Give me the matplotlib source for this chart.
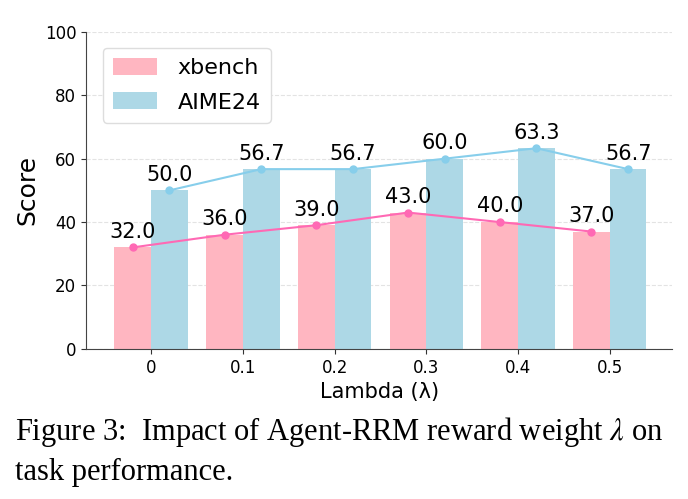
import matplotlib
matplotlib.use("Agg")
import matplotlib.pyplot as plt
import numpy as np

plt.rcParams["mathtext.fontset"] = "stix"

lambdas = ["0", "0.1", "0.2", "0.3", "0.4", "0.5"]
xbench = [32.0, 36.0, 39.0, 43.0, 40.0, 37.0]
aime24 = [50.0, 56.7, 56.7, 60.0, 63.3, 56.7]

fig = plt.figure(figsize=(6.88, 4.99), dpi=100)
ax = fig.add_axes([0.125, 0.301, 0.852, 0.635])

x = np.arange(len(lambdas))
w = 0.4
ax.bar(x - w/2, xbench, w, color="#FFB6C1", label="xbench", zorder=2)
ax.bar(x + w/2, aime24, w, color="#ADD8E6", label="AIME24", zorder=2)
ax.plot(x - w/2, xbench, color="#FF69B4", marker="o", ms=5, lw=1.5, zorder=3)
ax.plot(x + w/2, aime24, color="#87CEEB", marker="o", ms=5, lw=1.5, zorder=3)

for xi, v in zip(x - w/2, xbench):
    ax.annotate(f"{v:.1f}", (xi, v), xytext=(0, 4), textcoords="offset points",
                ha="center", va="bottom", fontsize=15)
for xi, v in zip(x + w/2, aime24):
    ax.annotate(f"{v:.1f}", (xi, v), xytext=(0, 4), textcoords="offset points",
                ha="center", va="bottom", fontsize=15)

ax.set_xlim(-0.71, 5.68)
ax.set_ylim(0, 100)
ax.set_yticks([0, 20, 40, 60, 80, 100])
ax.set_xticks(x)
ax.set_xticklabels(lambdas)
ax.tick_params(labelsize=12, color="#333333")
ax.yaxis.grid(True, linestyle="--", color="#e3e3e3", lw=0.8, zorder=0)
ax.set_axisbelow(True)
for s in ["top", "right"]:
    ax.spines[s].set_visible(False)
for s in ["left", "bottom"]:
    ax.spines[s].set_color("#444444")
ax.set_ylabel("Score", fontsize=18)
ax.set_xlabel("Lambda (λ)", fontsize=15)

leg = ax.legend(loc="upper left", fontsize=16, handlelength=2.0, handleheight=0.8,
                borderpad=0.45, labelspacing=0.65, handletextpad=0.9,
                bbox_to_anchor=(0.01, 0.985), framealpha=1, edgecolor="#dddddd")

fig.text(0.022, 0.118, "Figure 3:  Impact of Agent-RRM reward weight $\\lambda$ on",
         fontsize=22, family="Liberation Serif", va="baseline")
fig.text(0.022, 0.038, "task performance.", fontsize=22, family="Liberation Serif",
         va="baseline")

fig.savefig("out.png", dpi=100)
